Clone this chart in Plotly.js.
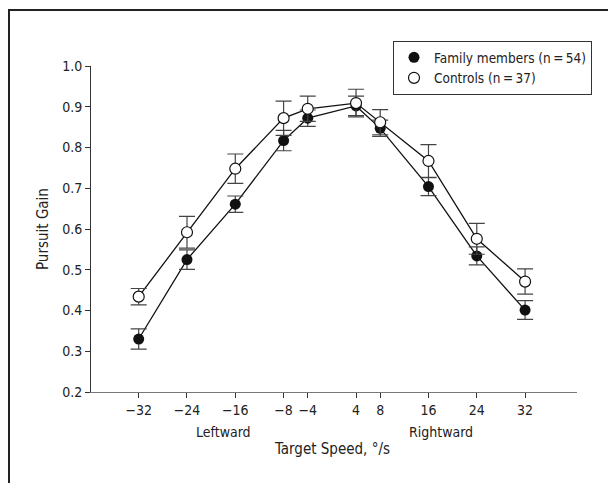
<!DOCTYPE html>
<html>
<head>
<meta charset="utf-8">
<script src="https://cdn.plot.ly/plotly-3.0.1.min.js"></script>
<style>
html,body{margin:0;padding:0;background:#fff;}
#chart{width:608px;height:483px;}
</style>
</head>
<body>
<div id="chart"></div>
<script>
// Data
var speeds = [-32, -24, -16, -8, -4, 4, 8, 16, 24, 32];
var tickLabels = ["\u221232", "\u221224", "\u221216", "\u22128", "\u22124", "4", "8", "16", "24", "32"];
var familyGain = [0.330, 0.525, 0.661, 0.817, 0.872, 0.902, 0.847, 0.704, 0.534, 0.401];
var familyErr  = [0.025, 0.024, 0.020, 0.025, 0.020, 0.024, 0.020, 0.022, 0.022, 0.023];
var controlGain = [0.434, 0.592, 0.748, 0.872, 0.895, 0.909, 0.862, 0.767, 0.576, 0.471];
var controlErr  = [0.020, 0.039, 0.036, 0.042, 0.031, 0.034, 0.031, 0.040, 0.038, 0.031];
var familyName = "Family members (n\u2009=\u200954)";
var controlName = "Controls (n\u2009=\u200937)";

var FONT = '"DejaVu Sans Condensed", "Liberation Sans Narrow", "Liberation Sans", Arial, sans-serif';
var W = 608, H = 483;
var M = {l: 91, r: 31, t: 66, b: 91, autoexpand: false};
var pw = W - M.l - M.r, ph = H - M.t - M.b;
function px(x){ return (x - M.l) / pw; }
function py(y){ return (H - M.b - y) / ph; }

var traces = [
  {x: speeds, y: familyGain, mode: 'lines', showlegend: false, hoverinfo: 'skip',
   line: {color: '#111', width: 1.3}},
  {x: speeds, y: controlGain, mode: 'lines', showlegend: false, hoverinfo: 'skip',
   line: {color: '#111', width: 1.3}},
  {x: speeds, y: familyGain, mode: 'markers', name: familyName,
   error_y: {type: 'data', array: familyErr, visible: true, color: '#444', thickness: 1.2, width: 8},
   marker: {color: '#111', size: 11, line: {color: '#111', width: 0}}},
  {x: speeds, y: controlGain, mode: 'markers', name: controlName,
   error_y: {type: 'data', array: controlErr, visible: true, color: '#444', thickness: 1.2, width: 8},
   marker: {color: '#fff', size: 11, line: {color: '#111', width: 1.2}}}
];

var layout = {
  width: W, height: H,
  margin: M,
  paper_bgcolor: '#fff', plot_bgcolor: '#fff',
  font: {family: FONT, size: 14, color: '#222'},
  showlegend: true,
  legend: {x: px(393), y: py(41), xanchor: 'left', yanchor: 'top',
           bordercolor: '#333', borderwidth: 1, bgcolor: '#fff',
           font: {family: FONT, size: 13.5, color: '#222'}, tracegroupgap: 0},
  xaxis: {range: [-39.9, 40.6], tickmode: 'array', tickvals: speeds, ticktext: tickLabels,
          showgrid: false, zeroline: false, showline: true, linecolor: '#777', linewidth: 1.3,
          ticks: 'outside', ticklen: 5, tickwidth: 1, tickcolor: '#333',
          tickfont: {family: FONT, size: 14, color: '#222'}, fixedrange: true},
  yaxis: {range: [0.2, 1.0], tickmode: 'array', tickvals: [0.2,0.3,0.4,0.5,0.6,0.7,0.8,0.9,1.0],
          ticktext: ['0.2','0.3','0.4','0.5','0.6','0.7','0.8','0.9','1.0'],
          showgrid: false, zeroline: false, showline: true, linecolor: '#333', linewidth: 1,
          ticks: 'outside', ticklen: 5, tickwidth: 1, tickcolor: '#333',
          tickfont: {family: FONT, size: 14, color: '#222'}, fixedrange: true},
  annotations: [
    {text: 'Leftward', xref: 'x', yref: 'paper', x: -18, y: py(431.7), showarrow: false,
     xanchor: 'center', yanchor: 'middle', font: {family: FONT, size: 14, color: '#222'}},
    {text: 'Rightward', xref: 'x', yref: 'paper', x: 18, y: py(431.7), showarrow: false,
     xanchor: 'center', yanchor: 'middle', font: {family: FONT, size: 14, color: '#222'}},
    {text: 'Target Speed, \u00b0/s', xref: 'paper', yref: 'paper', x: px(331.7), y: py(449), showarrow: false,
     xanchor: 'center', yanchor: 'middle', font: {family: FONT, size: 15, color: '#222'}},
    {text: 'Pursuit Gain', xref: 'paper', yref: 'paper', x: px(43), y: 0.5, textangle: -90, showarrow: false,
     xanchor: 'center', yanchor: 'middle', font: {family: FONT, size: 15, color: '#222'}}
  ],
  shapes: [
    {type: 'line', xref: 'paper', yref: 'paper', x0: px(9), x1: px(9), y0: py(10), y1: py(490),
     line: {color: '#222', width: 2}},
    {type: 'line', xref: 'paper', yref: 'paper', x0: px(8), x1: px(612), y0: py(10), y1: py(10),
     line: {color: '#222', width: 2}}
  ]
};

Plotly.newPlot('chart', traces, layout, {staticPlot: true, displayModeBar: false});
</script>
</body>
</html>
